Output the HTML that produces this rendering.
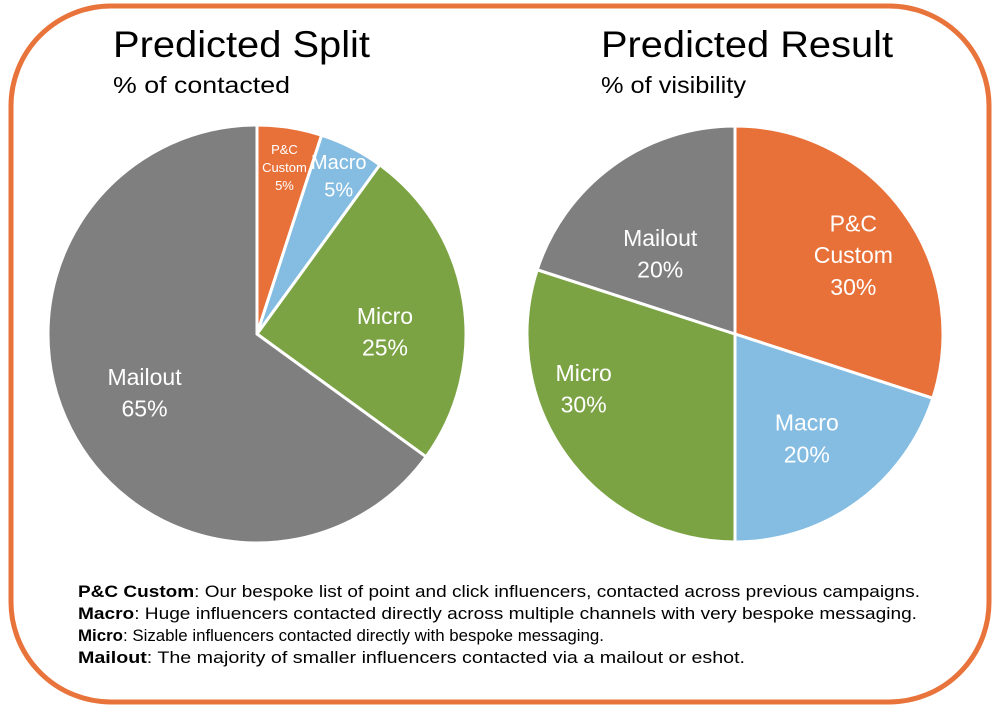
<!DOCTYPE html>
<html><head><meta charset="utf-8"><style>
body{margin:0;background:#fff;width:1000px;height:708px;overflow:hidden;font-family:"Liberation Sans",sans-serif}
</style></head><body>
<svg width="1000" height="708" xmlns="http://www.w3.org/2000/svg">
<rect x="11" y="6" width="978" height="696" rx="100" ry="100" fill="#fff" stroke="#E8743B" stroke-width="5"/>
<text x="113" y="57" font-size="37" fill="#000" textLength="257" lengthAdjust="spacingAndGlyphs">Predicted Split</text>
<text x="113" y="93" font-size="23" fill="#000" textLength="177" lengthAdjust="spacingAndGlyphs">% of contacted</text>
<text x="601" y="57" font-size="37" fill="#000" textLength="292" lengthAdjust="spacingAndGlyphs">Predicted Result</text>
<text x="601" y="93" font-size="23" fill="#000" textLength="145" lengthAdjust="spacingAndGlyphs">% of visibility</text>
<g id="pies"></g>
<g font-size="17" fill="#000">
<text x="78" y="597" textLength="842" lengthAdjust="spacingAndGlyphs"><tspan font-weight="bold">P&amp;C Custom</tspan>: Our bespoke list of point and click influencers, contacted across previous campaigns.</text>
<text x="78" y="619" textLength="839" lengthAdjust="spacingAndGlyphs"><tspan font-weight="bold">Macro</tspan>: Huge influencers contacted directly across multiple channels with very bespoke messaging.</text>
<text x="78" y="641" textLength="526" lengthAdjust="spacingAndGlyphs"><tspan font-weight="bold">Micro</tspan>: Sizable influencers contacted directly with bespoke messaging.</text>
<text x="78" y="663" textLength="667" lengthAdjust="spacingAndGlyphs"><tspan font-weight="bold">Mailout</tspan>: The majority of smaller influencers contacted via a mailout or eshot.</text>
</g>
</svg>
<script>
const categories = ["P&C Custom", "Macro", "Micro", "Mailout"];
const splitValues = [5, 5, 25, 65];
const resultValues = [30, 20, 30, 20];
const colors = ["#E8713A", "#85BDE2", "#7BA344", "#7F7F7F"];
const NS = "http://www.w3.org/2000/svg";
const g = document.getElementById("pies");
const splitNudge = [[0,7],[2,-2],[0,18],[3,0]];
const resultNudge = [[14,-3],[-4,0],[-47,-21],[1,24]];
function drawPie(vals, cx, cy, r, key, nudge){
  const total = vals.reduce((a,b)=>a+b,0);
  let acc = 0;
  vals.forEach((v,i)=>{
    const a0 = acc/total*2*Math.PI; acc += v;
    const a1 = acc/total*2*Math.PI;
    const x0 = cx + r*Math.sin(a0), y0 = cy - r*Math.cos(a0);
    const x1 = cx + r*Math.sin(a1), y1 = cy - r*Math.cos(a1);
    const large = (a1-a0) > Math.PI ? 1 : 0;
    const p = document.createElementNS(NS,"path");
    p.setAttribute("d",`M${cx},${cy} L${x0},${y0} A${r},${r} 0 ${large} 1 ${x1},${y1} Z`);
    p.setAttribute("fill",colors[i]);
    p.setAttribute("stroke","#fff");
    p.setAttribute("stroke-width","3");
    
    
    g.appendChild(p);
    const am = (a0+a1)/2;
    const small = v/total < 0.1;
    const lr = r*(small ? 0.84 : 0.62);
    const lx = cx + lr*Math.sin(am) + nudge[i][0], ly = cy - lr*Math.cos(am) + nudge[i][1];
    const lines = categories[i]==="P&C Custom" ? ["P&C","Custom",v+"%"] : [categories[i], v+"%"];
    const fs = (small && lines.length===3) ? 13 : (small ? 20 : 23);
    const lh = fs*1.38;
    const t = document.createElementNS(NS,"text");
    t.setAttribute("text-anchor","middle");
    t.setAttribute("fill","#fff");
    t.setAttribute("font-size",fs);
    
    
    lines.forEach((s,k)=>{
      const ts = document.createElementNS(NS,"tspan");
      ts.setAttribute("x",lx);
      ts.setAttribute("y",ly + (k-(lines.length-1)/2)*lh + fs*0.35);
      ts.textContent = s;
      t.appendChild(ts);
    });
    g.appendChild(t);
  });
}
drawPie(splitValues, 257, 334, 209, "split", splitNudge);
drawPie(resultValues, 735, 334, 208, "result", resultNudge);
</script>
</body></html>
